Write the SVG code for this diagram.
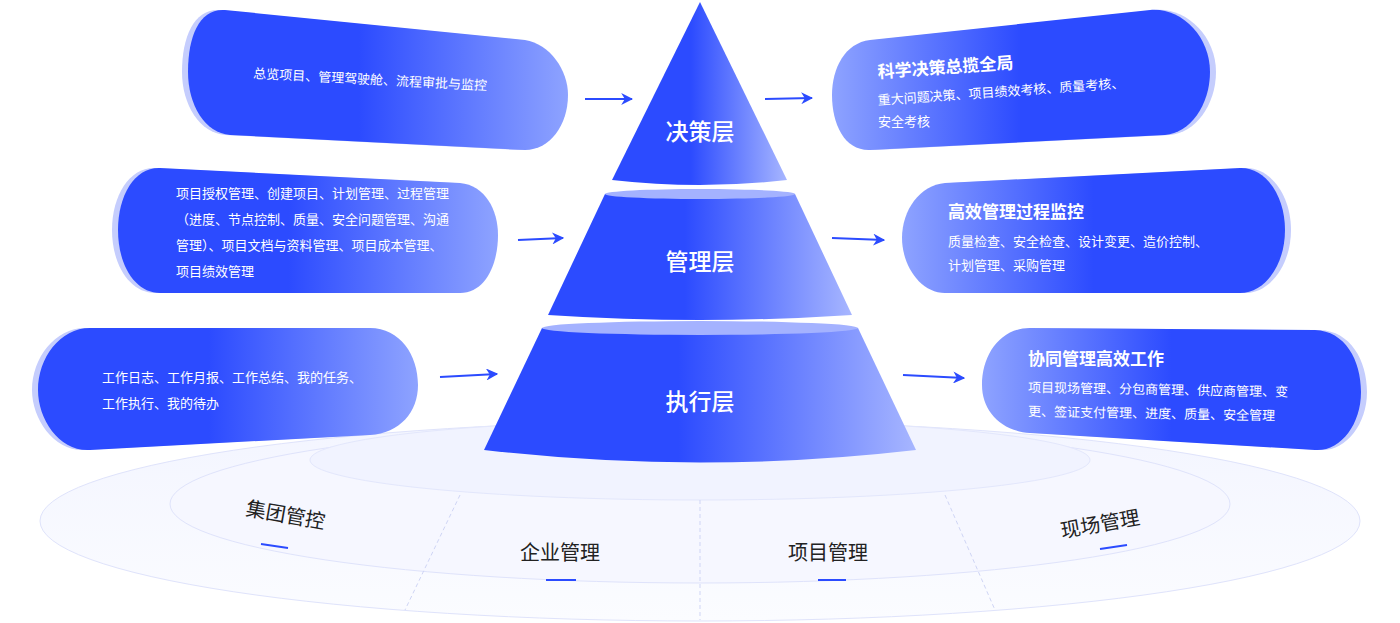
<svg xmlns="http://www.w3.org/2000/svg" width="1400" height="623" viewBox="0 0 1400 623">
<style>
.t{font-family:"Noto Sans CJK SC","Noto Sans",sans-serif;fill:#fff}
.s{font-size:13px}
.h{font-size:17px;font-weight:bold}
.p{font-size:23px;font-weight:500}
.g{font-family:"Noto Sans CJK SC",sans-serif;font-size:20px;fill:#222}
.sh{fill:#c5cdfd}
.ar{stroke:#2b4bff;stroke-width:2;fill:none;marker-end:url(#ah)}
</style>
<defs>
<linearGradient id="gl" x1="0" x2="1" y1="0" y2="0"><stop offset="0.45" stop-color="#2c4bff"/><stop offset="1" stop-color="#8ea3ff"/></linearGradient>
<linearGradient id="gr" x1="0" x2="1" y1="0" y2="0"><stop offset="0" stop-color="#8ea3ff"/><stop offset="0.5" stop-color="#2c4bff"/></linearGradient>
<linearGradient id="gp" x1="0" x2="1" y1="0" y2="0"><stop offset="0.45" stop-color="#2c4bff"/><stop offset="1" stop-color="#a7b6ff"/></linearGradient>
<linearGradient id="ge" x1="0" x2="0" y1="0" y2="1"><stop offset="0" stop-color="#f3f5ff"/><stop offset="1" stop-color="#fbfcff"/></linearGradient>
<marker id="ah" viewBox="0 0 10 10" refX="9" refY="5" markerWidth="6" markerHeight="6" orient="auto"><path d="M0,0 L10,5 L0,10 L3,5 Z" fill="#2b4bff"/></marker>
</defs>
<g id="base">
<ellipse cx="700" cy="521" rx="660" ry="100" fill="url(#ge)" stroke="#dfe3fb"/>
<ellipse cx="700" cy="504" rx="530" ry="79" fill="#f6f7ff" stroke="#dfe3fb"/>
<ellipse cx="700" cy="460" rx="390" ry="40" fill="#f1f3ff" stroke="#e3e7fc"/>
<g stroke="#cfd5f5" stroke-dasharray="4,3"><line x1="460" y1="495" x2="405" y2="610"/><line x1="700" y1="500" x2="700" y2="620"/><line x1="945" y1="495" x2="995" y2="610"/></g>
<text class="g" transform="translate(245,515) rotate(10)">集团管控</text>
<text class="g" x="520" y="560">企业管理</text>
<text class="g" x="788" y="560">项目管理</text>
<text class="g" transform="translate(1062,538) rotate(-10)">现场管理</text>
<g stroke="#2b4bff" stroke-width="2"><line x1="261" y1="544" x2="288" y2="548"/><line x1="546" y1="580" x2="576" y2="580"/><line x1="818" y1="580" x2="846" y2="580"/><line x1="1100" y1="549" x2="1127" y2="545"/></g>
</g>
<g id="layer-top"><path d="M700,2 L787,180 Q700,190 612,180 Z" fill="url(#gp)"/><text class="t p" x="700" y="140" text-anchor="middle">决策层</text></g>
<g id="layer-mid"><path d="M605,194 L795,194 L852,315 Q700,325 548,315 Z" fill="url(#gp)"/><ellipse cx="700" cy="194" rx="95" ry="5" fill="#a4b2ff"/><text class="t p" x="700" y="270" text-anchor="middle">管理层</text></g>
<g id="layer-bot"><path d="M542,328 L858,328 L916,450 Q700,475 484,450 Z" fill="url(#gp)"/><ellipse cx="700" cy="328" rx="158" ry="7" fill="#a4b2ff"/><text class="t p" x="700" y="410" text-anchor="middle">执行层</text></g>
<g id="l1"><path class="sh" d="M220,10 L520,40 C545,44 563,70 563,95 C563,125 545,150 520,150 L225,135 C200,133 182,105 182,72 C182,35 195,8 220,10 Z"/><path fill="url(#gl)" d="M225,10 L525,40 C550,44 568,70 568,95 C568,125 550,150 525,150 L230,135 C205,133 188,105 188,72 C188,35 200,8 225,10 Z"/><text class="t s" transform="translate(253,78) rotate(3)">总览项目、管理驾驶舱、流程审批与监控</text></g>
<g id="l2"><path class="sh" d="M155,168 L455,183 C480,185 493,210 493,235 C493,265 480,293 455,293 L155,293 C130,293 112,265 112,230 C112,195 130,167 155,168 Z"/><path fill="url(#gl)" d="M160,168 L460,183 C485,185 498,210 498,235 C498,265 485,293 460,293 L160,293 C135,293 118,265 118,230 C118,195 135,167 160,168 Z"/><g class="t s"><text x="176" y="198">项目授权管理、创建项目、计划管理、过程管理</text><text x="176" y="224">（进度、节点控制、质量、安全问题管理、沟通</text><text x="176" y="250">管理）、项目文档与资料管理、项目成本管理、</text><text x="176" y="276">项目绩效管理</text></g></g>
<g id="l3"><path class="sh" d="M85,328 L365,328 C395,328 413,355 413,385 C413,412 395,433 365,435 L85,450 C55,452 32,420 32,390 C32,358 55,328 85,328 Z"/><path fill="url(#gl)" d="M90,328 L370,328 C400,328 418,355 418,385 C418,412 400,433 370,435 L90,450 C60,452 38,420 38,390 C38,358 60,328 90,328 Z"/><g class="t s"><text x="102" y="382">工作日志、工作月报、工作总结、我的任务、</text><text x="102" y="408">工作执行、我的待办</text></g></g>
<g id="r1"><path class="sh" d="M875,40 L1155,10 C1185,7 1216,35 1216,72 C1216,105 1195,133 1170,135 L875,150 C850,151 838,125 838,95 C838,68 850,43 875,40 Z"/><path fill="url(#gr)" d="M870,40 L1150,10 C1180,7 1210,35 1210,72 C1210,105 1190,133 1165,135 L870,150 C845,151 832,125 832,95 C832,68 845,43 870,40 Z"/><g class="t"><text class="h" transform="translate(878,78) rotate(-4)">科学决策总揽全局</text><text class="s" transform="translate(878,105) rotate(-4)">重大问题决策、项目绩效考核、质量考核、</text><text class="s" x="878" y="126">安全考核</text></g></g>
<g id="r2"><path class="sh" d="M950,183 L1245,168 C1270,167 1291,195 1291,230 C1291,265 1270,293 1245,293 L950,293 C925,293 908,265 908,238 C908,210 925,185 950,183 Z"/><path fill="url(#gr)" d="M945,183 L1240,168 C1265,167 1285,195 1285,230 C1285,265 1265,293 1240,293 L945,293 C920,293 902,265 902,238 C902,210 920,185 945,183 Z"/><g class="t"><text class="h" x="948" y="218">高效管理过程监控</text><text class="s" x="948" y="246">质量检查、安全检查、设计变更、造价控制、</text><text class="s" x="948" y="270">计划管理、采购管理</text></g></g>
<g id="r3"><path class="sh" d="M1035,328 L1320,330 C1350,331 1367,360 1367,392 C1367,425 1345,452 1320,450 L1035,433 C1005,431 987,410 987,385 C987,355 1005,328 1035,328 Z"/><path fill="url(#gr)" d="M1030,328 L1315,330 C1345,331 1361,360 1361,392 C1361,425 1340,452 1315,450 L1030,433 C1000,431 982,410 982,385 C982,355 1000,328 1030,328 Z"/><g class="t"><text class="h" x="1028" y="365">协同管理高效工作</text><text class="s" transform="translate(1028,392) rotate(1)">项目现场管理、分包商管理、供应商管理、变</text><text class="s" transform="translate(1028,416) rotate(1)">更、签证支付管理、进度、质量、安全管理</text></g></g>
<g id="connectors">
<path class="ar" d="M585,99 L632,99"/><path class="ar" d="M518,240 L563,238"/><path class="ar" d="M440,377 L497,374"/>
<path class="ar" d="M765,99 L812,98"/><path class="ar" d="M832,238 L884,240"/><path class="ar" d="M903,375 L964,378"/>
</g>
</svg>
